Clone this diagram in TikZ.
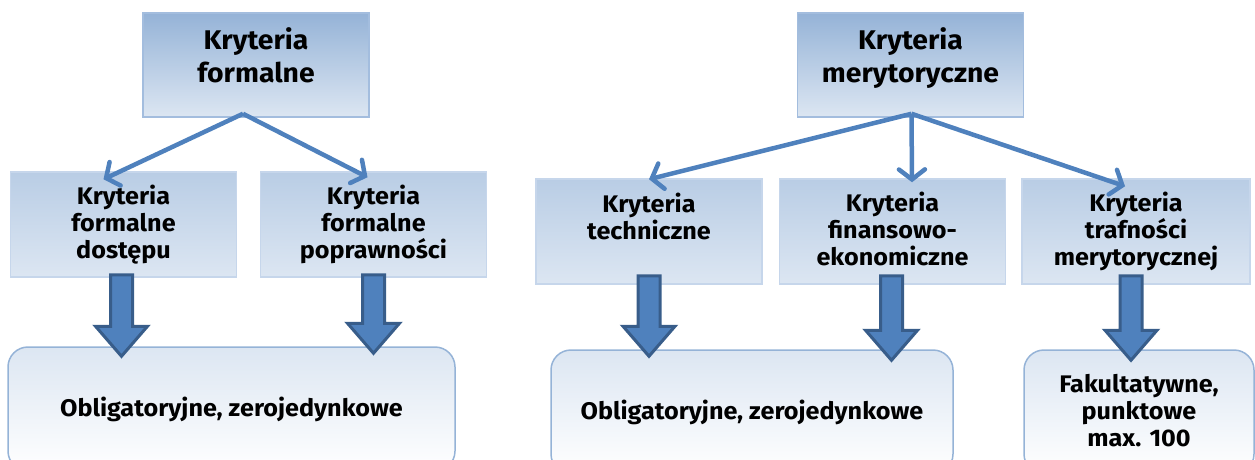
\documentclass[tikz,border=0pt]{standalone}
\usepackage{fontspec}
\setmainfont{Fira Sans}[FakeStretch=1.05]
\usetikzlibrary{arrows.meta,calc}

\definecolor{arrowblue}{HTML}{4F81BD}
\definecolor{arrowedge}{HTML}{385D8A}
\definecolor{topdark}{HTML}{95B3D7}
\definecolor{middark}{HTML}{B9CDE5}
\definecolor{boxlight}{HTML}{DCE6F2}
\definecolor{topline}{HTML}{A3BDDE}
\definecolor{midline}{HTML}{C6D6EB}
\definecolor{endline}{HTML}{95B3D7}

\tikzset{
  topbox/.style={draw=topline, line width=1.5, top color=topdark, bottom color=boxlight,
    minimum width=226, minimum height=104, align=center,
    font=\fontsize{27}{33}\selectfont\bfseries, text depth=19},
  midbox/.style={draw=midline, line width=1.5, top color=middark, bottom color=boxlight,
    minimum width=226, minimum height=105, align=center,
    font=\fontsize{24}{27}\selectfont\bfseries, text depth=5},
  endbox/.style={draw=endline, line width=1.5, top color=boxlight, bottom color=white,
    rounded corners=20, minimum height=124, align=center,
    font=\fontsize{24}{27}\selectfont\bfseries},
  thinarrow/.style={draw=arrowblue, line width=4.5,
    -{Straight Barb[length=10, width=26, line cap=round]}},
  blockarrow/.style={draw=arrowedge, fill=arrowblue, line width=3, line join=miter}
}

% wide arrow from #1 down to #2
\newcommand\blockarrow[2]{%
  \draw[blockarrow] let \p1=(#1), \p2=(#2) in
    (\x1-11pt,\y1) -- (\x1+11pt,\y1) -- (\x1+11pt,\y2+30pt) -- (\x1+26pt,\y2+30pt)
    -- (\x1,\y2) -- (\x1-26pt,\y2+30pt) -- (\x1-11pt,\y2+30pt) -- cycle;}

\begin{document}
\begin{tikzpicture}[x=1pt, y=-1pt]
  \useasboundingbox (0,0) rectangle (1255,459);
  \clip (0,0) rectangle (1255,459);

  % formal side
  \node[topbox] (kf) at (256,65) {Kryteria\\formalne};
  \node[midbox] (kfd) at (123.5,224.5) {Kryteria\\formalne\\dostępu};
  \node[midbox] (kfp) at (373.5,224.5) {Kryteria\\formalne\\poprawności};
  \node[endbox, minimum width=447] (ob1) at (231.5,409) {Obligatoryjne, zerojedynkowe};

  % merit side
  \node[topbox] (km) at (910.5,65) {Kryteria\\merytoryczne};
  \node[midbox, text depth=31] (kt) at (649,231.5) {Kryteria\\techniczne};
  \node[midbox] (kfe) at (892.5,231.5) {Kryteria\\finansowo-\\ekonomiczne};
  \node[midbox, minimum width=228] (ktm) at (1136,231.5) {Kryteria\\trafności\\merytorycznej};
  \node[endbox, minimum width=402] (ob2) at (752,412) {Obligatoryjne, zerojedynkowe};
  \node[endbox, minimum width=230, text depth=4] (fak) at (1139,412) {Fakultatywne,\\punktowe\\max. 100};

  \draw[thinarrow] ([xshift=-13, yshift=4]kf.south) -- ([xshift=-20, yshift=-8]kfd.north);
  \draw[thinarrow] ([xshift=-13, yshift=4]kf.south) -- ([xshift=-6, yshift=-6]kfp.north);
  \draw[thinarrow] ([xshift=1, yshift=4]km.south) -- ([yshift=-1]kt.north);
  \draw[thinarrow] ([xshift=1, yshift=4]km.south) -- ([xshift=19.5, yshift=-4]kfe.north);
  \draw[thinarrow] ([xshift=1, yshift=4]km.south) -- ([xshift=-11, yshift=-8]ktm.north);

  \blockarrow{$(kfd.south)+(-2,-3)$}{$(kfd.south |- ob1.north)+(0,10)$}
  \blockarrow{$(kfp.south)+(0,-3)$}{$(kfp.south |- ob1.north)+(0,7)$}
  \blockarrow{$(kt.south)+(0,-9)$}{$(kt.south |- ob2.north)+(0,7)$}
  \blockarrow{$(kfe.south)+(-1,-9)$}{$(kfe.south |- ob2.north)+(0,11)$}
  \blockarrow{$(ktm.south)+(-5,-9)$}{$(ktm.south |- fak.north)+(0,11)$}
\end{tikzpicture}
\end{document}
